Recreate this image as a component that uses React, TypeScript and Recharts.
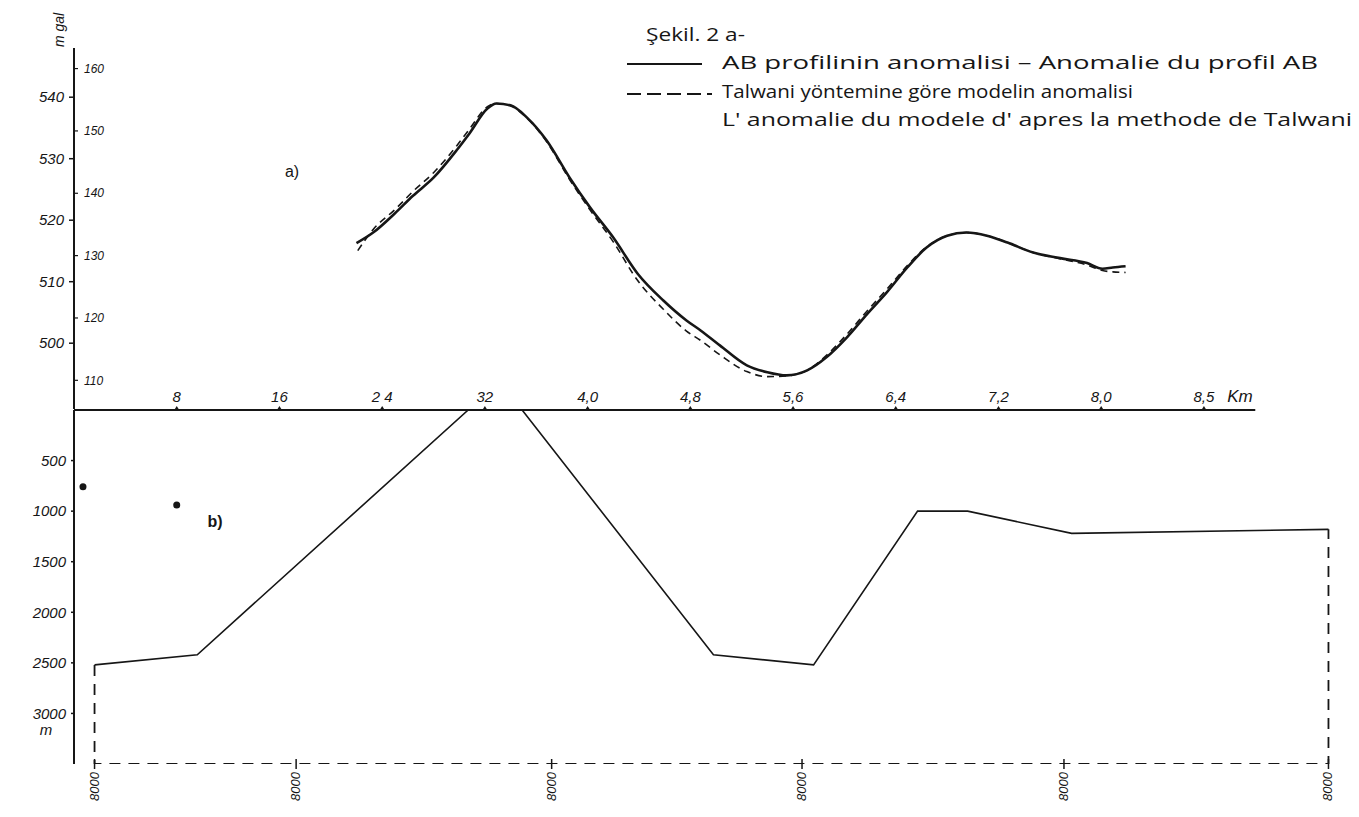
import React from "react";
import { ComposedChart, Line, XAxis, YAxis, ReferenceLine, Scatter } from "recharts";

// distance ticks along the profile (km) and how they are written on the sheet
const kmTicks = [8, 16, 24, 32, 40, 48, 56, 64, 72, 80, 88];
const kmLabels = ["8", "16", "2 4", "32", "4,0", "4,8", "5,6", "6,4", "7,2", "8,0", "8,5"];

// gravity axes: inner scale and outer (mgal) scale
const innerTicks = [110, 120, 130, 140, 150, 160];
const outerTicks = [500, 510, 520, 530, 540];

// depth axis of the model (m)
const depthTicks = [500, 1000, 1500, 2000, 2500, 3000];

// bottom marks under the model block
const blockTicks = [1.6, 17.3, 37.2, 56.7, 77.1, 97.7];
const blockLabels = ["8000", "8000", "8000", "8000", "8000", "8000"];

// a) observed anomaly of profile AB
const observedKm = [22.0, 23.3, 25.0, 26.4, 28.0, 29.8, 30.8, 32.2, 32.9, 34.0, 35.3, 36.8, 38.6, 40.2, 42.0, 43.9, 45.9, 47.7, 48.8, 50.3, 52.4, 54.0, 55.5, 57.1, 58.6, 60.2, 61.8, 63.3, 64.9, 66.4, 68.0, 69.5, 71.1, 72.7, 74.7, 76.8, 78.9, 80.1, 80.9, 81.9];
const observedVal = [132.0, 133.7, 136.8, 139.6, 142.5, 146.9, 149.6, 153.6, 154.4, 154.1, 152.1, 148.5, 142.5, 137.7, 132.9, 127.1, 122.8, 119.6, 118.0, 115.6, 112.4, 111.3, 110.8, 111.6, 113.7, 116.9, 120.7, 124.1, 128.1, 131.3, 133.2, 133.7, 133.2, 132.1, 130.5, 129.6, 128.8, 127.9, 128.1, 128.3];

// a) Talwani model anomaly
const modelKm = [22.1, 23.3, 25.0, 26.4, 28.0, 29.8, 30.8, 32.2, 32.9, 34.0, 35.3, 36.8, 38.6, 40.2, 42.0, 43.9, 45.9, 47.7, 48.8, 50.3, 52.4, 54.0, 55.5, 57.1, 58.6, 60.2, 61.8, 63.3, 64.9, 66.4, 68.0, 69.5, 71.1, 72.7, 74.7, 76.8, 78.9, 80.1, 80.9, 81.9];
const modelVal = [130.8, 134.2, 137.4, 140.3, 143.3, 147.6, 150.3, 153.9, 154.4, 154.0, 152.0, 148.3, 142.2, 137.3, 132.2, 126.0, 121.4, 117.9, 116.4, 114.1, 111.4, 110.6, 110.7, 111.6, 114.0, 117.4, 121.2, 124.6, 128.4, 131.4, 133.2, 133.7, 133.2, 132.1, 130.5, 129.5, 128.5, 127.6, 127.4, 127.3];

// b) model body outline (depth, m)
const bodyKm = [1.6, 9.6, 30.7, 34.9, 49.8, 57.6, 65.7, 69.6, 77.7, 97.7];
const bodyDepth = [2520, 2420, 0, 0, 2420, 2520, 1000, 1000, 1220, 1180];

// b) dashed closing frame of the block
const frameKm = [1.6, 1.6, 97.7, 97.7];
const frameDepth = [2520, 3500, 3500, 1180];

// b) two isolated points
const dotKm = [0.7, 8.0];
const dotDepth = [760, 940];

const observed = observedKm.map((km, i) => ({ km, v: observedVal[i] }));
const model = modelKm.map((km, i) => ({ km, v: modelVal[i] }));
const body = bodyKm.map((km, i) => ({ km, d: bodyDepth[i] }));
const frame = frameKm.map((km, i) => ({ km, d: frameDepth[i] }));
const dots = dotKm.map((km, i) => ({ km, d: dotDepth[i] }));

const INK = "#161616";
const HAND = "'Liberation Sans', 'DejaVu Sans', sans-serif";
const PRINT = "'Open Sans', 'Noto Sans', sans-serif";

function OuterTick({ x, y, payload }: any) {
  return (
    <g>
      <line x1={x - 4} x2={x} y1={y} y2={y} stroke={INK} strokeWidth={1.5} />
      <text x={x - 9} y={y} dy="0.35em" textAnchor="end" fontSize={15} fontStyle="italic" fontFamily={HAND} fill={INK}>
        {payload.value}
      </text>
    </g>
  );
}

function InnerTick({ x, y, payload }: any) {
  return (
    <g>
      <line x1={x} x2={x + 4} y1={y} y2={y} stroke={INK} strokeWidth={1.2} />
      <text x={x + 10} y={y} dy="0.35em" textAnchor="start" fontSize={12} fontStyle="italic" fontFamily={HAND} fill={INK}>
        {payload.value}
      </text>
    </g>
  );
}

function DepthTick({ x, y, payload }: any) {
  return (
    <g>
      <line x1={x - 3} x2={x} y1={y} y2={y} stroke={INK} strokeWidth={1.5} />
      <text x={x - 8} y={y} dy="0.35em" textAnchor="end" fontSize={15} fontStyle="italic" fontFamily={HAND} fill={INK}>
        {payload.value}
      </text>
      {payload.value === 3000 && (
        <text x={x - 28} y={y + 22} textAnchor="middle" fontSize={15} fontStyle="italic" fontFamily={HAND} fill={INK}>
          m
        </text>
      )}
    </g>
  );
}

function KmTick({ x, y, index }: any) {
  return (
    <g>
      <path d={`M${x - 2.5},${y} L${x},${y - 4} L${x + 2.5},${y} Z`} fill={INK} />
      <text x={x} y={y - 8} textAnchor="middle" fontSize={15} fontStyle="italic" fontFamily={HAND} fill={INK}>
        {kmLabels[index]}
      </text>
    </g>
  );
}

function BlockTick({ x, y, index }: any) {
  return (
    <g>
      <line x1={x} x2={x} y1={y - 5} y2={y + 5} stroke={INK} strokeWidth={1.5} />
      <text
        transform={`translate(${x + 4},${y + 8}) rotate(-90)`}
        textAnchor="end"
        fontSize={13}
        fontStyle="italic"
        fontFamily={HAND}
        fill={INK}
      >
        {blockLabels[index]}
      </text>
    </g>
  );
}

function Dot({ cx, cy }: any) {
  return <circle cx={cx} cy={cy} r={3.5} fill={INK} />;
}

export default function App() {
  return (
    <div style={{ position: "absolute", left: 0, top: 0, width: 1359, height: 817, background: "#fff" }}>
      {/* a) gravity anomaly */}
      <div style={{ position: "absolute", left: 0, top: 0 }}>
        <ComposedChart width={1359} height={420} margin={{ top: 48, right: 1, bottom: 11, left: 72 }}>
          <XAxis xAxisId="x" dataKey="km" type="number" domain={[0, 100]} hide height={0} allowDataOverflow />
          <YAxis
            yAxisId="inner"
            type="number"
            domain={[105.4, 163.3]}
            ticks={innerTicks}
            interval={0}
            width={1}
            axisLine={{ stroke: INK, strokeWidth: 2 }}
            tickLine={false}
            tickSize={0}
            tickMargin={0}
            tick={<InnerTick />}
            allowDataOverflow
          />
          <YAxis
            yAxisId="outer"
            type="number"
            domain={[489.3, 548]}
            ticks={outerTicks}
            interval={0}
            width={1}
            axisLine={false}
            tickLine={false}
            tickSize={0}
            tickMargin={0}
            tick={<OuterTick />}
            allowDataOverflow
          />
          <Line
            xAxisId="x"
            yAxisId="inner"
            data={model}
            dataKey="v"
            type="monotone"
            stroke={INK}
            strokeWidth={1.6}
            strokeDasharray="7 5"
            dot={false}
            isAnimationActive={false}
          />
          <Line
            xAxisId="x"
            yAxisId="inner"
            data={observed}
            dataKey="v"
            type="monotone"
            stroke={INK}
            strokeWidth={2.6}
            dot={false}
            isAnimationActive={false}
          />
          <Line
            xAxisId="x"
            yAxisId="outer"
            data={[]}
            dataKey="v"
            stroke="none"
            dot={false}
            legendType="none"
            isAnimationActive={false}
          />
        </ComposedChart>
      </div>

      {/* b) model cross-section */}
      <div style={{ position: "absolute", left: 0, top: 380 }}>
        <ComposedChart width={1359} height={437} margin={{ top: 0, right: 1, bottom: 0, left: 73 }}>
          <XAxis
            xAxisId="t"
            orientation="top"
            dataKey="km"
            type="number"
            domain={[0, 100]}
            ticks={kmTicks}
            interval={0}
            height={30}
            axisLine={false}
            tickLine={false}
            tickSize={0}
            tickMargin={0}
            tick={<KmTick />}
            allowDataOverflow
          />
          <XAxis
            xAxisId="b"
            orientation="bottom"
            dataKey="km"
            type="number"
            domain={[0, 100]}
            ticks={blockTicks}
            interval={0}
            height={53}
            axisLine={false}
            tickLine={false}
            tickSize={0}
            tickMargin={0}
            tick={<BlockTick />}
            allowDataOverflow
          />
          <YAxis
            yAxisId="d"
            type="number"
            reversed
            domain={[0, 3500]}
            ticks={depthTicks}
            interval={0}
            width={1}
            axisLine={{ stroke: INK, strokeWidth: 2 }}
            tickLine={false}
            tickSize={0}
            tickMargin={0}
            tick={<DepthTick />}
            allowDataOverflow
          />
          <ReferenceLine
            xAxisId="t"
            yAxisId="d"
            segment={[{ x: 0, y: 0 }, { x: 92, y: 0 }]}
            stroke={INK}
            strokeWidth={2}
            ifOverflow="visible"
          />
          <Line
            xAxisId="t"
            yAxisId="d"
            data={frame}
            dataKey="d"
            type="linear"
            stroke={INK}
            strokeWidth={1.8}
            strokeDasharray="11 8"
            dot={false}
            isAnimationActive={false}
          />
          <Line
            xAxisId="t"
            yAxisId="d"
            data={body}
            dataKey="d"
            type="linear"
            stroke={INK}
            strokeWidth={1.6}
            dot={false}
            isAnimationActive={false}
          />
          <Scatter xAxisId="t" yAxisId="d" data={dots} dataKey="d" shape={<Dot />} isAnimationActive={false} />
        </ComposedChart>
      </div>

      {/* annotations and legend */}
      <svg width={1359} height={817} style={{ position: "absolute", left: 0, top: 0, pointerEvents: "none" }}>
        <text transform="translate(64,30) rotate(-90)" textAnchor="middle" fontSize={14} fontStyle="italic" fontFamily={HAND} fill={INK}>
          m gal
        </text>
        <text x={292} y={177} textAnchor="middle" fontSize={16} fontFamily={HAND} fill={INK}>a)</text>
        <text x={215} y={527} textAnchor="middle" fontSize={16} fontWeight="bold" fontFamily={HAND} fill={INK}>b)</text>
        <text x={1240} y={402} textAnchor="middle" fontSize={17} fontStyle="italic" fontFamily={HAND} fill={INK}>Km</text>

        <text x={646} y={41} fontSize={18} fontFamily={PRINT} fill={INK} textLength={99} lengthAdjust="spacingAndGlyphs">Şekil. 2 a-</text>
        <line x1={627} x2={702} y1={64} y2={64} stroke={INK} strokeWidth={2} />
        <text x={722} y={69} fontSize={18} fontFamily={PRINT} fill={INK} textLength={596} lengthAdjust="spacingAndGlyphs">
          AB profilinin anomalisi – Anomalie du profil AB
        </text>
        <line x1={627} x2={712} y1={94} y2={94} stroke={INK} strokeWidth={2} strokeDasharray="14 6" />
        <text x={722} y={98} fontSize={18} fontFamily={PRINT} fill={INK} textLength={411} lengthAdjust="spacingAndGlyphs">
          Talwani yöntemine göre modelin anomalisi
        </text>
        <text x={722} y={126} fontSize={18} fontFamily={PRINT} fill={INK} textLength={630} lengthAdjust="spacingAndGlyphs">
          L' anomalie du modele d' apres la methode de Talwani
        </text>
      </svg>
    </div>
  );
}
